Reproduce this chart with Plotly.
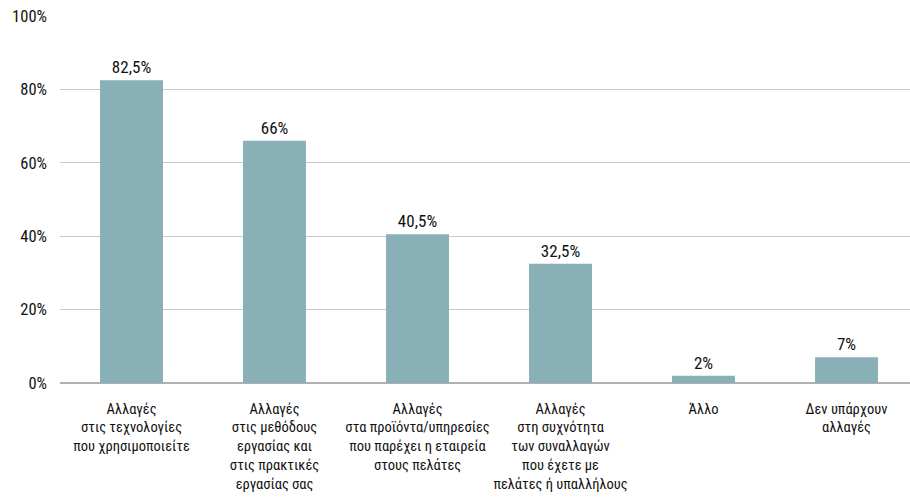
import plotly.graph_objects as go

categories = [
    "Αλλαγές<br>στις τεχνολογίες<br>που χρησιμοποιείτε",
    "Αλλαγές<br>στις μεθόδους<br>εργασίας και<br>στις πρακτικές<br>εργασίας σας",
    "Αλλαγές<br>στα προϊόντα/υπηρεσίες<br>που παρέχει η εταιρεία<br>στους πελάτες",
    "Αλλαγές<br>στη συχνότητα<br>των συναλλαγών<br>που έχετε με<br>πελάτες ή υπαλλήλους",
    "Άλλο",
    "Δεν υπάρχουν<br>αλλαγές",
]
values = [82.5, 66, 40.5, 32.5, 2, 7]
value_labels = ["82,5%", "66%", "40,5%", "32,5%", "2%", "7%"]
tick_vals = [0, 20, 40, 60, 80, 100]
tick_text = ["0%", "20%", "40%", "60%", "80%", "100%"]

FONT = "Roboto Condensed, Noto Sans Condensed, DejaVu Sans Condensed, sans-serif"

fig = go.Figure(go.Bar(
    x=categories, y=values, text=value_labels, textposition="outside",
    marker=dict(color="#88b0b6", line=dict(width=0)),
    width=0.44, cliponaxis=False,
    textfont=dict(family=FONT, size=17, color="#111111"),
))
fig.update_layout(
    width=910, height=502,
    margin=dict(l=60, r=0, t=16, b=119),
    paper_bgcolor="white", plot_bgcolor="white",
    font=dict(family=FONT, size=14, color="#111111"),
    showlegend=False,
)
fig.update_yaxes(range=[0, 100], tickvals=tick_vals, ticktext=tick_text,
                 showgrid=True, gridcolor="#c8c8c8", gridwidth=1,
                 zeroline=True, zerolinecolor="#b0b0b0", zerolinewidth=1.5,
                 ticklabelstandoff=12, tickfont=dict(size=16.5),
                 automargin=False)
fig.update_xaxes(showgrid=False, tickangle=0, ticklabelstandoff=15,
                 range=[-0.5, 5.444],
                 tickfont=dict(size=14.5), automargin=False)
fig.write_html("out.html", config={"displayModeBar": False},
               post_script="document.body.style.margin='0';")
